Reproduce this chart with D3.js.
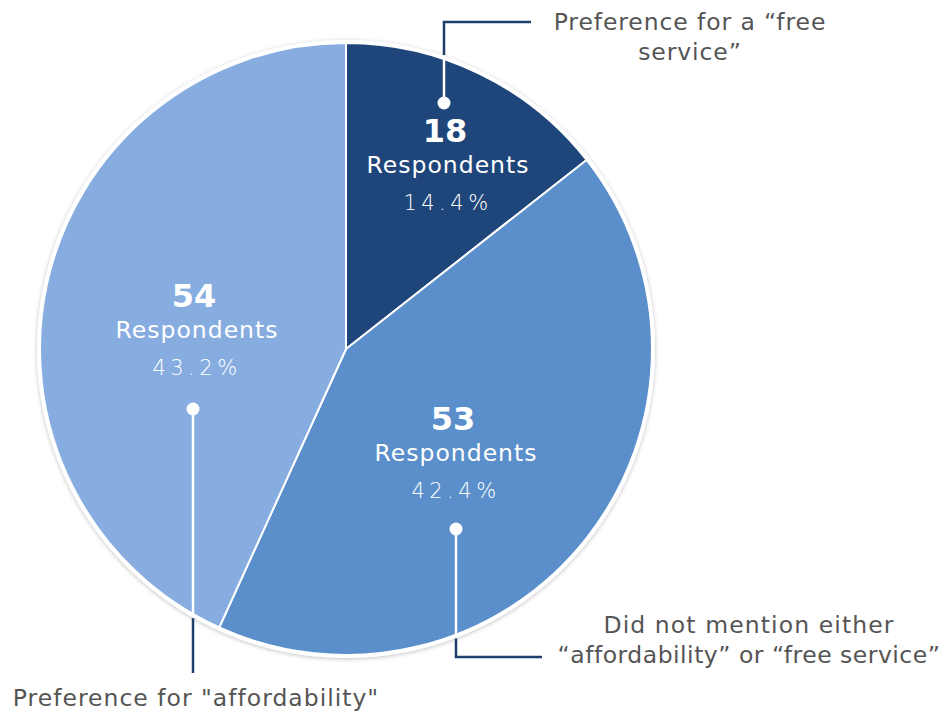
<!DOCTYPE html>
<html><head><meta charset="utf-8">
<script src="https://cdn.jsdelivr.net/npm/d3@7"></script>
<style>
html,body{margin:0;padding:0;background:#fff;}
svg{display:block;}
text{font-family:"DejaVu Sans","Open Sans",sans-serif;}
</style></head>
<body>
<svg id="chart" width="944" height="712"></svg>
<script>
// ---- data ----
const categories = [
  ["Preference for a \u201cfree", "service\u201d"],
  ["Did not mention either", "\u201caffordability\u201d or \u201cfree service\u201d"],
  ["Preference for \"affordability\""]
];
const values = [18, 53, 54];
const percentLabels = ["14.4%", "42.4%", "43.2%"];
const unitLabel = "Respondents";

// ---- styling / layout ----
const colors = ["#1f467a", "#5a8fcb", "#87ade0"];
const navy = "#1e3f6b";
const textGrey = "#555555";
const cx = 346, cy = 349, R = 307;
const labelPos = [[445, 142], [453, 430], [194, 307]];
const callouts = [
  {dot:[444,103], knee:[444,22], end:[531,22], tx:690, ty:[30,60], ls:[0.9,0.9]},
  {dot:[456,529], knee:[456,657], end:[542,657], tx:749, ty:[633,663], ls:[1.1,0.5]},
  {dot:[193,409], knee:[193,673], end:null, tx:196, ty:[706], ls:[1.0]}
];

const svg = d3.select("#chart");
const defs = svg.append("defs");
const f = defs.append("filter").attr("id","sh").attr("x","-10%").attr("y","-10%").attr("width","120%").attr("height","120%");
f.append("feDropShadow").attr("dx",0).attr("dy",1).attr("stdDeviation",2).attr("flood-color","#000").attr("flood-opacity",0.25);

const g = svg.append("g").attr("transform", `translate(${cx},${cy})`);
g.append("circle").attr("r", R + 2).attr("fill", "#fff").attr("filter","url(#sh)");

const pie = d3.pie().sort(null).value(d => d)(values);
const arc = d3.arc().innerRadius(0).outerRadius(R - 1);
g.selectAll("path.slice").data(pie).join("path")
  .attr("class","slice")
  .attr("d", arc)
  .attr("fill", (d,i) => colors[i])
  .attr("stroke", "#fff").attr("stroke-width", 2).attr("stroke-linejoin","round");

// callouts
callouts.forEach((c, i) => {
  const [dx, dy] = c.dot;
  const relx = dx - cx;
  const edge = Math.sqrt(R*R - relx*relx);
  const dir = c.knee[1] < dy ? -1 : 1;
  const yEdge = cy + dir * edge;
  svg.append("line").attr("x1",dx).attr("y1",dy).attr("x2",dx).attr("y2",yEdge)
    .attr("stroke","#fff").attr("stroke-width",2.5);
  const pts = [[dx, yEdge + dir*3], c.knee];
  if (c.end) pts.push(c.end);
  svg.append("path").attr("d", d3.line()(pts)).attr("fill","none")
    .attr("stroke", navy).attr("stroke-width", 2.5);
  svg.append("circle").attr("cx",dx).attr("cy",dy).attr("r",6.5).attr("fill","#fff");
  categories[i].forEach((line, k) => {
    svg.append("text").attr("x", c.tx).attr("y", c.ty[k])
      .attr("text-anchor","middle").attr("fill", textGrey)
      .attr("font-size", 23.5).attr("letter-spacing", c.ls[k]).text(line);
  });
});

// slice labels
values.forEach((v, i) => {
  const [lx, ly] = labelPos[i];
  svg.append("text").attr("x", lx).attr("y", ly).attr("text-anchor","middle")
    .attr("fill","#fff").attr("font-size",32).attr("font-weight","bold").text(v);
  svg.append("text").attr("x", lx + 3).attr("y", ly + 31).attr("text-anchor","middle")
    .attr("fill","#fff").attr("font-size",23.5).attr("letter-spacing",1).text(unitLabel);
  svg.append("text").attr("x", lx + 3).attr("y", ly + 68).attr("text-anchor","middle")
    .attr("fill","#fff").attr("font-size",21).attr("font-weight",300)
    .attr("letter-spacing", 4.5).text(percentLabels[i]);
});
</script>
</body></html>
